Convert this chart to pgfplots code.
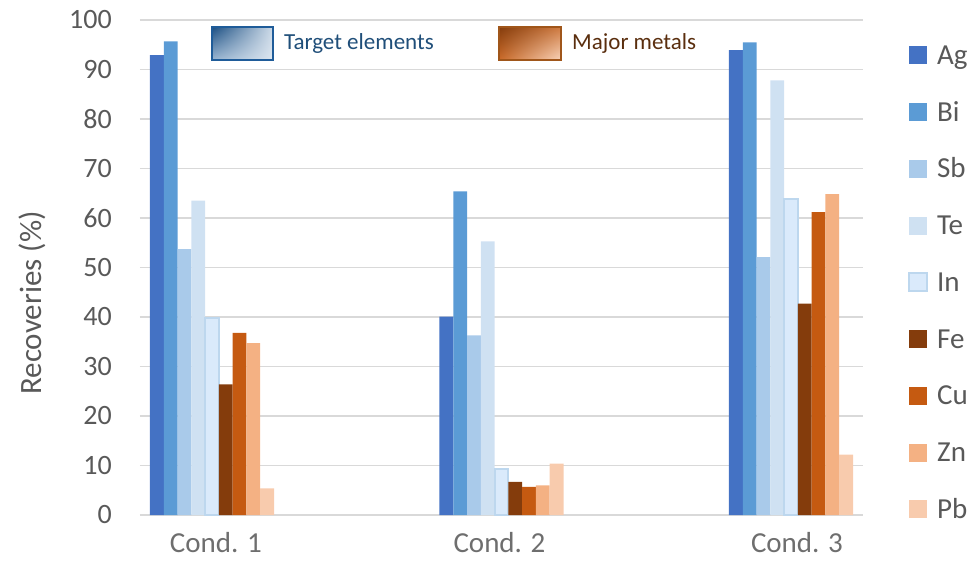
\documentclass[border=0pt]{standalone}
\usepackage{pgfplots}
\usepackage{pgfplotstable}
\pgfplotsset{compat=1.18}
\usetikzlibrary{shadings}
\usepackage{fontspec}
\setmainfont{Carlito}

\definecolor{cAg}{HTML}{4472C4}
\definecolor{cBi}{HTML}{5B9BD5}
\definecolor{cSb}{HTML}{A9CAEA}
\definecolor{cTe}{HTML}{CFE1F2}
\definecolor{cIn}{HTML}{DAEAFB}
\definecolor{cInB}{HTML}{BDD7EE}
\definecolor{cFe}{HTML}{843C0C}
\definecolor{cCu}{HTML}{C55A11}
\definecolor{cZn}{HTML}{F4B183}
\definecolor{cPb}{HTML}{F8CBAD}
\definecolor{gridgray}{HTML}{D9D9D9}
\definecolor{txtgray}{HTML}{595959}
\definecolor{catgray}{HTML}{6E6E6E}
\definecolor{navy}{HTML}{1F4E79}
\definecolor{boxblue}{HTML}{1F5C99}
\definecolor{brownT}{HTML}{5A2E0E}
\definecolor{boxbrown}{HTML}{A0561A}

% recoveries (%) per condition
\pgfplotstableread{
x Ag Bi Sb Te In Fe Cu Zn Pb
0 92.9 95.7 53.7 63.5 39.7 26.4 36.8 34.7 5.4
1 40.1 65.4 36.3 55.3 9.2 6.7 5.7 6.0 10.4
2 93.9 95.5 52.1 87.8 63.8 42.7 61.2 64.8 12.2
}\datatable

\pgfplotsset{
  sq/.style={legend image code/.code={\path[##1] (0pt,-7pt) rectangle (18pt,11pt);}},
}

\begin{document}
\begin{tikzpicture}
\begin{axis}[
  scale only axis, width=723pt, height=495pt,
  xmin=-0.2487, xmax=2.2487, ymin=0, ymax=100,
  ybar=0pt, bar width=13.78pt,
  ytick={0,10,...,100},
  xtick={0.0138,0.9931,2.0207},
  xticklabels={Cond. 1, Cond. 2, Cond. 3},
  axis line style={draw=none}, major tick style={draw=none},
  ymajorgrids, grid style={line width=1.5pt, color=gridgray},
  /pgf/number format/assume math mode=true,
  yticklabel style={font=\fontsize{28}{28}\selectfont, text=txtgray, anchor=east, inner sep=0pt, xshift=-28pt},
  xticklabel style={font=\fontsize{29}{29}\selectfont, text=catgray, anchor=north, inner sep=0pt,
    text height=18pt, text depth=0pt, yshift=-15pt},
  legend style={at={(1.0622,0.951)}, anchor=north west, draw=none, fill=none,
    inner sep=0pt, row sep=30.75pt, font=\fontsize{29}{29}\selectfont, text=txtgray,
    nodes={inner sep=0pt, text height=20pt, text depth=6pt},
    /tikz/every odd column/.append style={column sep=9pt}},
  legend cell align=left,
]
\addplot[fill=cAg, draw=none, sq] table[x=x, y=Ag] {\datatable};
\addlegendentry{Ag}
\addplot[fill=cBi, draw=none, sq] table[x=x, y=Bi] {\datatable};
\addlegendentry{Bi}
\addplot[fill=cSb, draw=none, sq] table[x=x, y=Sb] {\datatable};
\addlegendentry{Sb}
\addplot[fill=cTe, draw=none, sq] table[x=x, y=Te] {\datatable};
\addlegendentry{Te}
\addplot[fill=cIn, draw=cInB, line width=2pt, sq] table[x=x, y=In] {\datatable};
\addlegendentry{In}
\addplot[fill=cFe, draw=none, sq] table[x=x, y=Fe] {\datatable};
\addlegendentry{Fe}
\addplot[fill=cCu, draw=none, sq] table[x=x, y=Cu] {\datatable};
\addlegendentry{Cu}
\addplot[fill=cZn, draw=none, sq] table[x=x, y=Zn] {\datatable};
\addlegendentry{Zn}
\addplot[fill=cPb, draw=none, sq] table[x=x, y=Pb] {\datatable};
\addlegendentry{Pb}
\end{axis}

% y axis title
\node[rotate=90, font=\fontsize{31}{31}\selectfont, text=txtgray] at (-108pt,212pt) {Recoveries (\%)};

% group keys above the bars
\shade[upper left=boxblue!85!black, upper right=boxblue!22!white, lower left=boxblue!45!white, lower right=boxblue!15!white]
  (72pt,455pt) rectangle (133pt,488pt);
\draw[boxblue, line width=2.5pt] (72pt,455pt) rectangle (133pt,488pt);
\node[anchor=west, inner sep=0pt, font=\fontsize{23}{23}\selectfont, text=navy] at (144pt,471.5pt) {Target elements};

\shade[upper left=cFe, upper right=cCu!80!white, lower left=cCu!90!white, lower right=cZn!55!white]
  (359pt,455pt) rectangle (421pt,488pt);
\draw[boxbrown, line width=2.5pt] (359pt,455pt) rectangle (421pt,488pt);
\node[anchor=west, inner sep=0pt, font=\fontsize{23}{23}\selectfont, text=brownT] at (432pt,471.5pt) {Major metals};

\pgfresetboundingbox
\path[use as bounding box] (-140pt,-45pt) rectangle (833pt,515pt);
\end{tikzpicture}
\end{document}
